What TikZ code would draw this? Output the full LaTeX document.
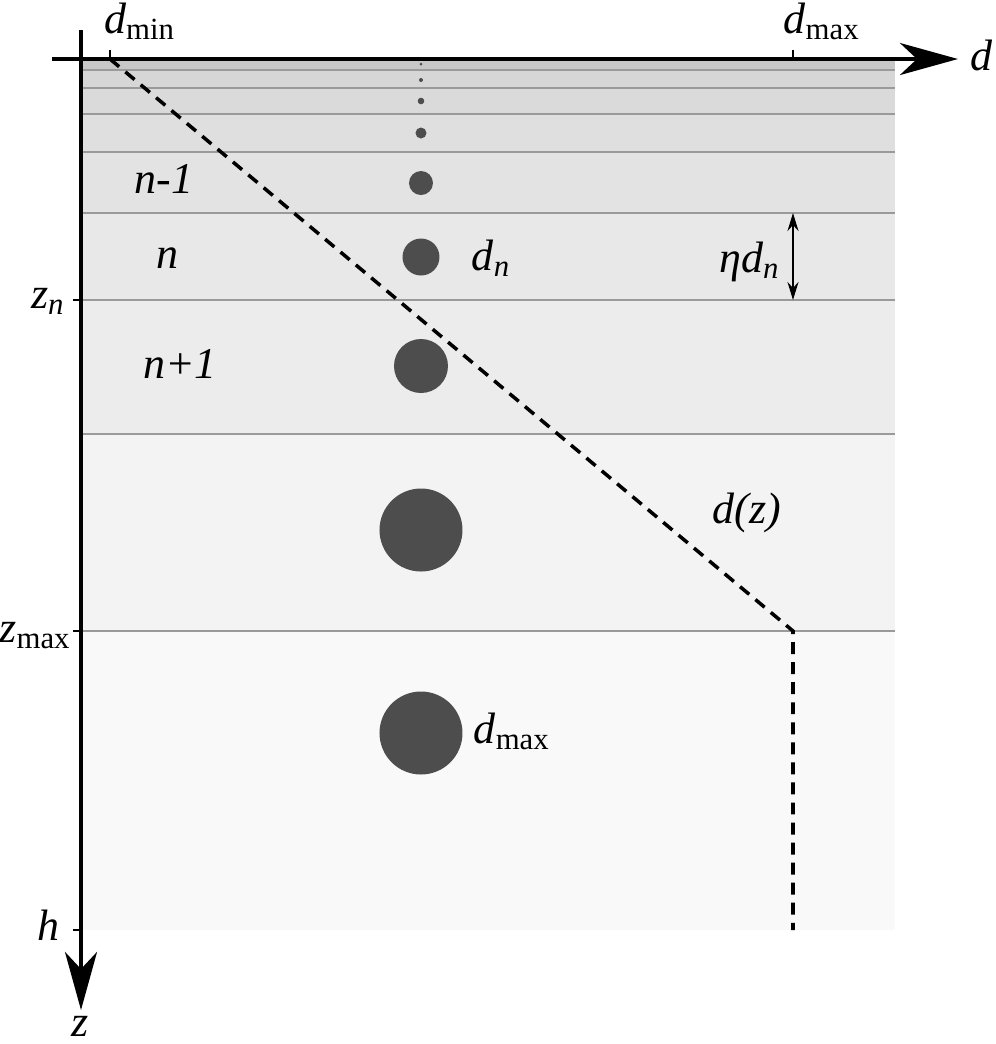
\documentclass[tikz,border=0pt]{standalone}
\usepackage{amsmath}
\usepackage{fontspec}
\setmainfont{Liberation Serif}[ItalicFont={Liberation Serif Italic}]
\usetikzlibrary{arrows.meta}

\definecolor{dropgray}{HTML}{4D4D4D}
\definecolor{sepgray}{HTML}{9A9A9A}

\begin{document}
\begin{tikzpicture}[x=0.01cm,y=-0.01cm,>={Stealth[length=5.8mm,width=3.2mm,inset=1.7mm]},
font=\fontsize{12.5}{15}\selectfont,
axis/.style={line width=1pt},
lab/.style={anchor=base,inner sep=0pt},
profile/.style={line width=1pt,dash pattern=on 3.4pt off 2.3pt}]
\useasboundingbox (0,0) rectangle (996,1044);
% layers, darker towards the top
\foreach \ya/\yb/\p in {59/70/22,70/88/16,88/114/14.5,114/152/12.5,152/213/11,213/300/9,300/434/7.5,434/631/4.7,631/930/2.4}
\fill[black!\p] (81,\ya) rectangle (895,\yb);
\foreach \y in {70,88,114,152,213,300,434,631}
\draw[sepgray,line width=0.4pt] (81,\y)--(895,\y);
% drops
\foreach \y/\r in {64/1.5,80/2,101/3.3,133/5.5,183/12,257/18.5,366/27,530/41.5,733/41.5}
\fill[dropgray] (421,\y) circle[radius=\r];
% d(z)
\coordinate (top) at (110,59);
\coordinate (knee) at (793,631);
\coordinate (bottom) at (793,930);
\draw[profile] (top)--(knee)--(bottom);
% axes
\coordinate (dstart) at (52,59);
\coordinate (dend) at (958,59);
\coordinate (zstart) at (81,30);
\coordinate (zend) at (81,1010);
\draw[axis,->] (dstart)--(dend);
\draw[axis,->] (zstart)--(zend);
\draw[line width=0.6pt] (110,50)--(110,59) (793,50)--(793,59)
(73,300)--(81,300) (73,631)--(81,631) (73,930)--(81,930);
\coordinate (etatop) at (793,213);
\coordinate (etabot) at (793,300);
\draw[line width=0.6pt,{Stealth[length=1.8mm,width=1.1mm,inset=0.6mm]}-{Stealth[length=1.8mm,width=1.1mm,inset=0.6mm]}] (etatop)--(etabot);
% labels
\node[lab] (dmin) at (140,33) {\textit{d}$_{\textrm{min}}$};
\node[lab] (dmax) at (822,33) {\textit{d}$_{\textrm{max}}$};
\node[lab] (d) at (982,70) {\textit{d}};
\node[lab] (z) at (80,1036) {\textit{z}};
\node[lab,anchor=base east] (zn) at (66,308) {\textit{z}$_{\textit{n}}$};
\node[lab,anchor=base east] (zmax) at (72,642) {\textit{z}$_{\textrm{max}}$};
\node[lab] (h) at (48,940) {\textit{h}};
\node[lab] (nm1) at (164,193) {\textit{n-1}};
\node[lab] (n) at (167,268) {\textit{n}};
\node[lab] (np1) at (180,378) {\textit{n+1}};
\node[lab,anchor=base west] (dn) at (471,270) {\textit{d}$_{\textit{n}}$};
\node[lab,anchor=base east] (etadn) at (781,272) {\textit{ηd}$_{\textit{n}}$};
\node[lab,anchor=base west] (dz) at (712,523) {\textit{d(z)}};
\node[lab,anchor=base west] (dmaxl) at (473,743) {\textit{d}$_{\textrm{max}}$};
\end{tikzpicture}
\end{document}
